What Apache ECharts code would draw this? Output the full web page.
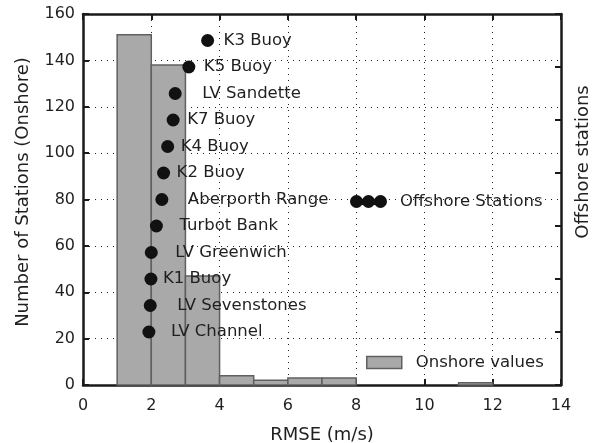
<!DOCTYPE html>
<html>
<head>
<meta charset="utf-8">
<script src="https://cdn.jsdelivr.net/npm/echarts@6/dist/echarts.min.js"></script>
<style>
  html, body { margin: 0; padding: 0; background: #fff; }
  #chart { width: 595px; height: 443px; }
</style>
</head>
<body>
<div id="chart"></div>
<script>
// Histogram of onshore station RMSE (bin edges every 1 m/s)
const binStart = [1, 2, 3, 4, 5, 6, 7, 8, 9, 10, 11];
const binWidth = 1;
const onshoreCounts = [151, 138, 47, 4, 2, 3, 3, 0, 0, 0, 1];

// Offshore stations: RMSE and their rank on the right-hand axis
const stationNames = ['K3 Buoy', 'K5 Buoy', 'LV Sandette', 'K7 Buoy', 'K4 Buoy', 'K2 Buoy',
  'Aberporth Range', 'Turbot Bank', 'LV Greenwich', 'K1 Buoy', 'LV Sevenstones', 'LV Channel'];
const stationRmse = [3.65, 3.10, 2.70, 2.64, 2.48, 2.36, 2.31, 2.15, 2.00, 1.99, 1.97, 1.93];
const stationRank = [13, 12, 11, 10, 9, 8, 7, 6, 5, 4, 3, 2];

// Layout only: gap between each marker and its name
const labelGap = [9.5, 8.5, 20.5, 7.5, 6.5, 6.5, 19.5, 16.5, 17.5, 5.5, 20.5, 15.5];

const FONT = 'DejaVu Sans';
const INK = '#1f1f1f';

const histData = binStart.map((s, i) => [s, s + binWidth, onshoreCounts[i]]);
const stationData = stationNames.map((n, i) => ({
  name: n,
  value: [stationRmse[i], stationRank[i]],
  label: { distance: labelGap[i] }
}));

const tickStyle = { show: true, inside: true, length: 6, lineStyle: { color: '#1a1a1a', width: 2 } };
const lineStyle = { show: true, onZero: false, lineStyle: { color: '#1a1a1a', width: 2.5 } };
const dotted = { show: true, lineStyle: { color: '#222', width: 1, type: [1, 5] } };

const chart = echarts.init(document.getElementById('chart'), null, { renderer: 'canvas' });
chart.setOption({
  animation: false,
  backgroundColor: '#fff',
  textStyle: { fontFamily: FONT, color: INK },
  grid: { left: 83, right: 34, top: 14, bottom: 58, containLabel: false, outerBoundsMode: 'none' },
  legend: [
    {
      data: ['Offshore Stations'],
      left: 350, top: 193, padding: 0,
      itemWidth: 37, itemHeight: 13,
      icon: 'path://M0,6.5A6.5,6.5,0,1,1,13,6.5A6.5,6.5,0,1,1,0,6.5Z M12,6.5A6.5,6.5,0,1,1,25,6.5A6.5,6.5,0,1,1,12,6.5Z M24,6.5A6.5,6.5,0,1,1,37,6.5A6.5,6.5,0,1,1,24,6.5Z',
      selectedMode: false,
      itemStyle: { color: '#111', opacity: 1 },
      textStyle: { fontFamily: FONT, fontSize: 16.5, color: INK, padding: [0, 0, 0, 8] }
    },
    {
      data: ['Onshore values'],
      left: 366, top: 354, padding: 0,
      itemWidth: 35, itemHeight: 12,
      icon: 'rect',
      selectedMode: false,
      itemStyle: { color: '#a9a9a9', borderColor: '#606060', borderWidth: 1.5 },
      textStyle: { fontFamily: FONT, fontSize: 16.5, color: INK, padding: [0, 0, 0, 9] }
    }
  ],
  xAxis: [
    {
      type: 'value', min: 0, max: 14, interval: 2, position: 'bottom',
      name: 'RMSE (m/s)', nameLocation: 'middle', nameGap: 41,
      nameTextStyle: { fontFamily: FONT, fontSize: 18, color: INK },
      axisLine: lineStyle, axisTick: tickStyle,
      axisLabel: { fontFamily: FONT, fontSize: 16, color: INK, margin: 13 },
      splitLine: dotted
    },
    {
      type: 'value', min: 0, max: 14, interval: 2, position: 'top',
      axisLine: lineStyle, axisTick: tickStyle,
      axisLabel: { show: false }, splitLine: { show: false }
    }
  ],
  yAxis: [
    {
      type: 'value', min: 0, max: 160, interval: 20, position: 'left',
      name: 'Number of Stations (Onshore)', nameLocation: 'middle', nameGap: 51, nameRotate: 90,
      nameTextStyle: { fontFamily: FONT, fontSize: 18, color: INK, padding: [0, 0, 0, 15] },
      axisLine: lineStyle, axisTick: tickStyle,
      axisLabel: { fontFamily: FONT, fontSize: 16, color: INK, margin: 8 },
      splitLine: dotted
    },
    {
      type: 'value', min: 0, max: 14, interval: 2, position: 'right',
      name: 'Offshore stations', nameLocation: 'middle', nameGap: 13, nameRotate: 90,
      nameTextStyle: { fontFamily: FONT, fontSize: 18, color: INK, padding: [0, 0, 0, 75] },
      axisLine: lineStyle, axisTick: tickStyle,
      axisLabel: { show: false }, splitLine: { show: false }
    }
  ],
  series: [
    {
      name: 'Onshore values',
      type: 'custom',
      xAxisIndex: 0, yAxisIndex: 0,
      itemStyle: { color: '#a9a9a9', borderColor: '#606060', borderWidth: 1.5 },
      encode: { x: [0, 1], y: 2 },
      data: histData,
      renderItem: function (params, api) {
        const h = api.value(2);
        if (!(h > 0)) return null;
        const p0 = api.coord([api.value(0), h]);
        const p1 = api.coord([api.value(1), 0]);
        return {
          type: 'rect',
          shape: { x: p0[0], y: p0[1], width: p1[0] - p0[0], height: p1[1] - p0[1] },
          style: { fill: '#a9a9a9', stroke: '#606060', lineWidth: 1.5 }
        };
      }
    },
    {
      name: 'Offshore Stations',
      type: 'scatter',
      xAxisIndex: 0, yAxisIndex: 1,
      symbol: 'circle', symbolSize: 13,
      itemStyle: { color: '#111', opacity: 1 },
      label: {
        show: true, position: 'right',
        formatter: '{b}',
        fontFamily: FONT, fontSize: 16.5, color: INK
      },
      data: stationData,
      z: 5
    }
  ]
});
</script>
</body>
</html>
